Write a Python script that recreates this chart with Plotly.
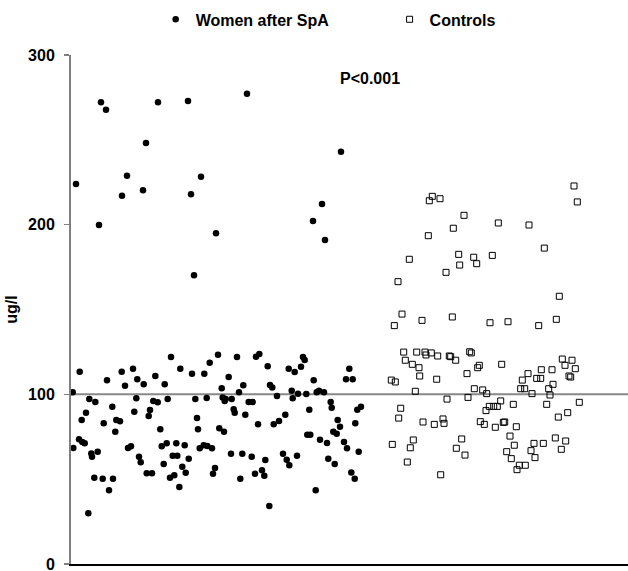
import plotly.graph_objects as go

# ---- data (y in ug/l, x = horizontal jitter position) ----
women_x = [30, 35, 87, 117, 176, 75, 56, 5, 51, 72, 130, 120, 28, 145, 270, 251, 242, 254, 123,
           1.7, 8.7, 18.3, 24.3, 15, 10.7, 2.3, 8, 11.3, 13.7, 20.3, 21, 26.7, 23.3, 31.7, 17.3, 38, 42,
           32.7, 41.3, 36, 45.3, 49, 44.3, 50.7, 54, 62, 66.3, 72.7, 65.3, 63.3, 57, 60, 68, 69.7, 75.7,
           81, 79, 77.7, 82.3, 86.7, 84.3, 93.7, 100, 96.7, 89.3, 90.7, 95.7, 92.7, 99, 103.3, 108.3,
           101.7, 106.3, 105.3, 113.7, 111.3, 114.7, 117.7, 109.3, 121, 124.3, 126, 127, 133.3, 138.7,
           147, 135.7, 128.7, 132.7, 136.3, 141, 144, 142, 148.3, 150.7, 151.7, 153,
           154.7, 160.7, 153.7, 157.7, 166, 185, 188.3, 196.7, 168, 172.3, 177.7, 181.7, 162.7, 163.7,
           174.3, 187, 199, 201.3, 206, 202.7, 208, 214.3, 217.7, 223.7, 230, 232, 233.7, 220.7, 221.7,
           227, 235.3, 242.7, 245.7, 248, 253, 238.3, 236.3, 239.3, 249, 256, 259.7, 260.7, 266.7, 269,
           262.3, 265.7, 273, 276, 278.3, 275, 281.7, 286.3, 290, 284.3, 287.7, 280.3, 283.7, 257.3,
           263.7, 244.7, 160, 171.3, 180.7, 169.3, 184, 191, 193.3, 194.3, 212, 215.7, 218.3, 226, 198.3]
women_y = [272.1, 267.8, 272.1, 272.9, 277.2, 248.1, 228.9, 224.0, 217.1, 220.3, 228.3, 217.9, 199.8,
           194.9, 243.0, 212.2, 202.2, 191.0, 170.2,
           101.2, 113.3, 97.2, 95.5, 89.2, 84.9, 68.4, 73.5, 71.9, 71.1, 65.2, 63.2, 66.2, 50.9, 50.3,
           29.9, 43.4, 50.3, 82.9, 92.7, 108.3, 84.9, 84.1, 78.0, 113.3, 105.1, 115.1, 108.9, 105.9,
           97.7, 89.8, 68.4, 69.4, 63.2, 59.9, 53.5, 53.5, 90.8, 87.2, 96.1, 95.3, 110.8, 105.9, 122.0,
           97.2, 79.4, 69.4, 71.1, 58.9, 50.9, 52.3, 45.4, 63.8, 63.8, 71.1, 70.0, 57.3, 53.8, 62.1,
           115.1, 112.2, 97.2, 86.0, 79.4, 112.2, 118.6, 123.4, 97.8, 68.2, 70.0, 69.5, 68.2, 56.6,
           53.2, 80.0, 103.6, 98.2, 78.0,
           97.2, 97.2, 96.1, 110.2, 122.0, 122.2, 123.8, 116.5, 101.2, 105.3, 95.5, 95.5, 91.2, 89.2,
           88.0, 82.3, 105.5, 104.1, 99.0, 82.3, 84.3, 88.0, 115.1, 113.2, 116.3, 122.0, 120.2, 102.1,
           97.7, 100.4, 100.2, 108.3, 101.2, 102.1, 101.2, 90.9, 76.2, 76.2, 73.3, 71.3, 95.5, 92.1,
           84.9, 80.9, 78.0, 76.8, 71.9, 68.2, 115.1, 108.9, 108.9, 90.9, 92.7, 82.9, 66.2, 54.0, 50.3,
           62.1, 58.9, 43.4, 65.0, 65.0, 63.2, 50.3, 53.2, 55.2, 52.0, 61.3, 65.0, 61.5, 58.2, 63.8, 34.2]

controls_x = [503, 506.3, 361.3, 358.3, 369, 393, 427.3, 458, 382.3, 357.3, 473.3, 338.3, 387.7, 402.7,
              421.3, 388.7, 405.7, 375, 327, 488.3, 331, 323.3, 351, 381.3, 419, 437, 467.7, 485.3,
              332.7, 345.7, 354, 355, 360.3, 366.7, 378.3, 379.7, 384.7, 398.7, 400.3, 334.3, 341.3,
              348, 348.7, 320.3, 324.3, 344.3, 365.7, 396, 406.7, 408.3, 430.7, 403.3, 411.7, 415.7,
              397, 376, 491.3, 501, 494, 504.3, 470.3, 481, 457, 465.7, 469.7, 451.3, 498, 499.7, 482,
              449.7, 453.7, 477.7, 461, 479, 329.7, 327.7, 352, 363.3, 372, 373, 429.7, 422.7, 426.3,
              418.3, 415, 442.3, 475.7, 508.3, 496.7, 487.3, 409.3, 413.3, 424.3, 432.3, 433.7, 445.3,
              439, 321.3, 342.3, 339.3, 336.3, 390.7, 385.3, 394, 369.7, 443.3, 435.7, 440.3, 463,
              472.3, 484.3, 494.7, 490.3, 460, 464, 448.3, 454.3, 446]
controls_y = [222.8, 213.4, 216.7, 214.1, 215.3, 205.5, 201.0, 199.8, 197.9, 193.5, 186.2, 179.6, 182.5,
              180.8, 181.9, 176.2, 177.0, 171.9, 166.4, 157.8, 147.3, 140.5, 143.6, 145.6, 142.2, 142.8,
              140.5, 144.2, 124.9, 124.9, 124.9, 123.2, 124.4, 122.6, 122.6, 122.2, 120.1, 125.1, 124.4,
              120.1, 117.7, 115.7, 110.8, 108.4, 107.3, 101.8, 108.9, 112.2, 115.7, 117.1, 117.7, 103.3,
              102.6, 100.4, 98.2, 97.2, 120.8, 120.1, 117.1, 115.1, 114.5, 114.5, 112.2, 109.4, 109.4,
              108.4, 110.8, 110.2, 105.9, 103.3, 103.3, 103.3, 100.4, 99.6, 91.8, 86.0, 83.7, 82.3, 85.5,
              82.9, 96.1, 92.9, 92.9, 92.9, 90.4, 94.1, 94.1, 95.3, 89.2, 86.6, 83.9, 82.3, 80.6, 83.5,
              83.7, 80.9, 75.4, 70.5, 73.1, 68.5, 60.1, 73.7, 68.2, 64.2, 52.6, 70.0, 66.2, 62.1, 71.1,
              71.1, 74.3, 72.5, 67.6, 66.8, 62.7, 58.2, 58.2, 55.6]

y_ticks = [0, 100, 200, 300]
reference_level = 100
p_text = "P<0.001"

FONT = "Liberation Sans, Arial, sans-serif"

fig = go.Figure()
fig.add_trace(go.Scatter(
    x=women_x, y=women_y, mode="markers", name="Women after SpA",
    marker=dict(symbol="circle", size=6.5, color="black", line=dict(width=0)),
    legend="legend",
))
fig.add_trace(go.Scatter(
    x=controls_x, y=controls_y, mode="markers", name="Controls",
    marker=dict(symbol="square-open", size=6, color="black", line=dict(width=1, color="black")),
    legend="legend2",
))

fig.add_shape(type="line", xref="paper", yref="y", x0=0, x1=1,
              y0=reference_level, y1=reference_level,
              line=dict(color="#888888", width=2), layer="below")

fig.add_annotation(x=299, y=286, xref="x", yref="y", text=p_text, showarrow=False,
                   font=dict(family=FONT, size=16, color="black", weight="bold"))

legend_common = dict(orientation="h", yanchor="middle", y=1.07, xanchor="left",
                     bgcolor="rgba(0,0,0,0)", borderwidth=0,
                     font=dict(family=FONT, size=16, color="black", weight="bold"))

fig.update_layout(
    width=628, height=571,
    margin=dict(l=71, r=0, t=55, b=7, autoexpand=False),
    plot_bgcolor="white", paper_bgcolor="white",
    showlegend=True,
    legend=dict(x=0.152, **legend_common),
    legend2=dict(x=0.572, **legend_common),
    xaxis=dict(range=[0, 557], showticklabels=False, ticks="", showgrid=False, zeroline=False,
               showline=True, linecolor="black", linewidth=1.5, fixedrange=True),
    yaxis=dict(range=[0, 300], tickvals=y_ticks, ticks="outside", ticklen=5, tickwidth=1.5,
               tickcolor="#808080", showgrid=False, zeroline=False,
               showline=True, linecolor="#808080", linewidth=2,
               ticklabelstandoff=6, ticklabeloverflow="allow",
               tickfont=dict(family=FONT, size=16, color="black", weight="bold"),
               title=dict(text="ug/l", standoff=6,
                          font=dict(family=FONT, size=16, color="black", weight="bold"))),
)

fig.write_html("out.html",
               config={"displayModeBar": False, "staticPlot": True},
               post_script="document.body.style.margin='0';document.body.style.overflow='hidden';")
